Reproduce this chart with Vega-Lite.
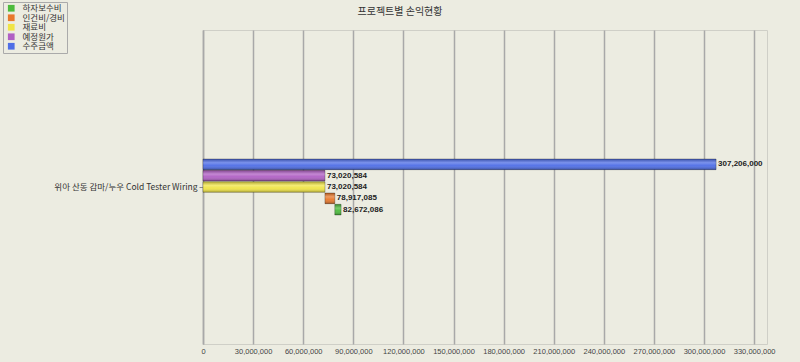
{
  "$schema": "https://vega.github.io/schema/vega-lite/v6.json",
  "width": 564,
  "height": 314,
  "autosize": {"type": "none"},
  "padding": {"left": 203, "top": 30, "right": 33, "bottom": 18},
  "background": "#ECECE1",
  "title": {
    "text": "프로젝트별 손익현황",
    "font": "Noto Sans CJK KR",
    "fontSize": 10,
    "fontWeight": "normal",
    "color": "#333333",
    "anchor": "middle",
    "frame": "group",
    "dx": -85,
    "dy": 27,
    "offset": 12
  },
  "config": {
    "view": {"stroke": "#cfcfc7", "fill": "#ECECE1"}
  },
  "data": {
    "values": [
      {"project": "위아 산동 감마/누우 Cold Tester Wiring", "series": "수주금액", "start": 0, "end": 307206000},
      {"project": "위아 산동 감마/누우 Cold Tester Wiring", "series": "예정원가", "start": 0, "end": 73020584},
      {"project": "위아 산동 감마/누우 Cold Tester Wiring", "series": "재료비", "start": 0, "end": 73020584},
      {"project": "위아 산동 감마/누우 Cold Tester Wiring", "series": "인건비/경비", "start": 73020584, "end": 78917085},
      {"project": "위아 산동 감마/누우 Cold Tester Wiring", "series": "하자보수비", "start": 78917085, "end": 82672086}
    ]
  },
  "encoding": {
    "y": {
      "field": "project",
      "type": "nominal",
      "title": null,
      "scale": {"paddingInner": 0.566, "paddingOuter": 1},
      "axis": {
        "domain": true,
        "domainColor": "#a8a8a8",
        "domainWidth": 1.5,
        "ticks": true,
        "tickSize": 4,
        "tickColor": "#888888",
        "labelFont": "Noto Sans CJK KR",
        "labelFontSize": 8.5,
        "labelColor": "#333333",
        "labelPadding": 2,
        "labelLimit": 300
      }
    },
    "yOffset": {
      "field": "series",
      "type": "nominal",
      "sort": ["수주금액", "예정원가", "재료비", "인건비/경비", "하자보수비"],
      "scale": {"paddingInner": 0.06, "paddingOuter": 0}
    }
  },
  "layer": [
    {
      "mark": {"type": "bar", "stroke": "rgba(0,0,0,0.35)", "strokeWidth": 0.8},
      "encoding": {
        "x": {
          "field": "start",
          "type": "quantitative",
          "title": null,
          "scale": {"domain": [0, 337700000], "nice": false},
          "axis": {
            "values": [0, 30000000, 60000000, 90000000, 120000000, 150000000, 180000000, 210000000, 240000000, 270000000, 300000000, 330000000],
            "format": ",d",
            "grid": true,
            "gridColor": "#a8a8a8",
            "gridWidth": 1.5,
            "domain": false,
            "ticks": false,
            "labelFont": "Liberation Sans",
            "labelFontSize": 7.5,
            "labelColor": "#444444",
            "labelPadding": 3,
            "labelFlush": false,
            "labelOverlap": false
          }
        },
        "x2": {"field": "end"},
        "color": {
          "field": "series",
          "type": "nominal",
          "scale": {
            "domain": ["하자보수비", "인건비/경비", "재료비", "예정원가", "수주금액"],
            "range": ["#4cbb3c", "#e8782c", "#f0e446", "#b060c4", "#4f6ee6"]
          },
          "legend": {
            "title": null,
            "orient": "none",
            "legendX": -200,
            "legendY": -28,
            "direction": "vertical",
            "fillColor": "#ECECE1",
            "strokeColor": "#aaaaaa",
            "padding": 2,
            "symbolType": "square",
            "symbolSize": 45,
            "symbolStrokeWidth": 0,
            "symbolOpacity": 1,
            "labelFont": "Noto Sans CJK KR",
            "labelFontSize": 8.5,
            "labelColor": "#333333",
            "labelBaseline": "middle",
            "labelOffset": 7,
            "labelLimit": 80,
            "rowPadding": 0.5,
            "symbolOffset": 2
          }
        }
      }
    },
    {
      "mark": {
        "type": "bar",
        "fill": {
          "gradient": "linear",
          "x1": 0, "y1": 0, "x2": 0, "y2": 1,
          "stops": [
            {"offset": 0, "color": "rgba(0,0,0,0.25)"},
            {"offset": 0.35, "color": "rgba(255,255,255,0.25)"},
            {"offset": 0.6, "color": "rgba(255,255,255,0.05)"},
            {"offset": 1, "color": "rgba(0,0,0,0.3)"}
          ]
        }
      },
      "encoding": {
        "x": {"field": "start", "type": "quantitative", "scale": {"domain": [0, 337700000], "nice": false}},
        "x2": {"field": "end"}
      }
    },
    {
      "mark": {
        "type": "text",
        "align": "left",
        "baseline": "middle",
        "dx": 2,
        "font": "Liberation Sans",
        "fontSize": 8,
        "fontWeight": "bold",
        "color": "#222222"
      },
      "encoding": {
        "x": {"field": "end", "type": "quantitative", "scale": {"domain": [0, 337700000], "nice": false}},
        "text": {"field": "end", "type": "quantitative", "format": ",d"}
      }
    }
  ]
}
